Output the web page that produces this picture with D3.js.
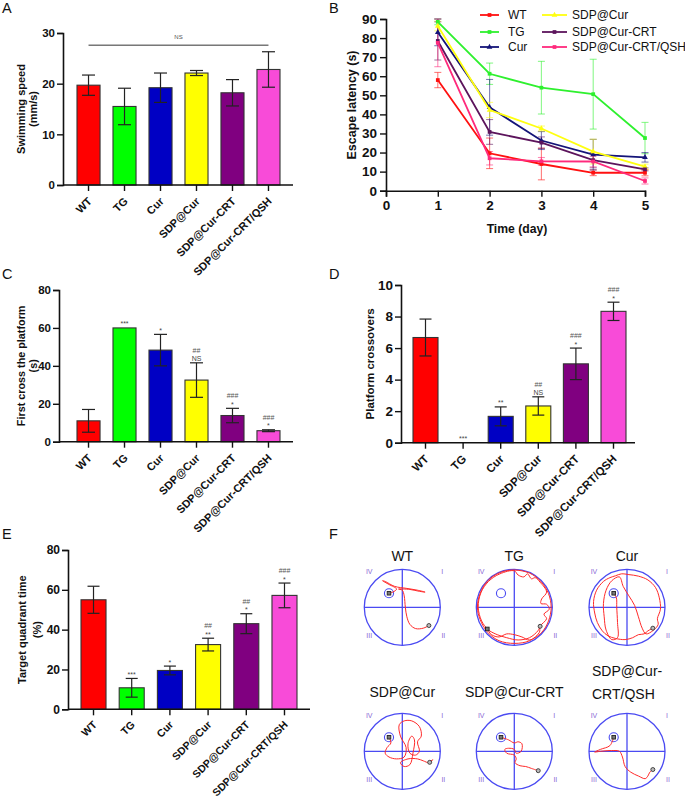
<!DOCTYPE html>
<html>
<head>
<meta charset="utf-8">
<script src="https://cdn.jsdelivr.net/npm/d3@7"></script>
<style>
  html, body { margin: 0; padding: 0; background: #fff; }
  svg { display: block; font-family: "Liberation Sans", Arial, sans-serif; }
</style>
</head>
<body>
<script>
// ---------------- DATA ----------------
const groups = ["WT", "TG", "Cur", "SDP@Cur", "SDP@Cur-CRT", "SDP@Cur-CRT/QSH"];
const barColors = ["#ff0000", "#00ff00", "#0000c4", "#ffff00", "#800080", "#f84bd8"];
const lineColors = ["#ff1010", "#2ef02e", "#141478", "#ffff10", "#5c145c", "#ff2a7c"];

// A: swimming speed (mm/s)
const speedMean = [19.7, 15.5, 19.2, 22.1, 18.2, 22.8];
const speedSem  = [2.0, 3.6, 2.9, 0.5, 2.6, 3.5];
const speedTicks = [0, 10, 20, 30];

// B: escape latency (s) per day
const days = [1, 2, 3, 4, 5];
const latWT   = [58.0, 19.6, 14.0, 9.4, 9.4];
const latTG   = [88.5, 61.3, 54.0, 50.6, 27.6];
const latCur  = [83.0, 43.7, 26.3, 18.9, 17.5];
const latSDP  = [86.3, 42.3, 32.6, 20.5, 12.6];
const latCRT  = [78.5, 30.8, 25.2, 16.0, 11.2];
const latQSH  = [77.5, 17.0, 15.4, 15.3, 5.1];
const semWT   = [4.0, 8.0, 8.3, 1.5, 1.6];
const semTG   = [1.5, 5.6, 13.8, 18.3, 8.2];
const semCur  = [7.0, 14.6, 4.7, 8.0, 2.5];
const semSDP  = [2.5, 4.0, 1.3, 6.5, 1.3];
const semCRT  = [10.0, 6.5, 3.0, 4.0, 0.8];
const semQSH  = [12.5, 3.5, 2.0, 2.8, 1.6];
const latencyTicksY = [0, 10, 20, 30, 40, 50, 60, 70, 80, 90];
const latencyTicksX = [0, 1, 2, 3, 4, 5];

// C: first cross the platform (s)
const firstMean = [11.0, 60.0, 48.3, 32.5, 13.8, 5.8];
const firstSem  = [6.0, 0, 8.3, 9.1, 3.8, 0.5];
const firstSig1 = ["", "***", "*", "NS", "*", "*"];
const firstSig2 = ["", "", "", "##", "###", "###"];
const firstTicks = [0, 20, 40, 60, 80];

// D: platform crossovers
const crossMean = [6.67, 0, 1.67, 2.33, 5.0, 8.33];
const crossSem  = [1.17, 0, 0.6, 0.58, 1.0, 0.58];
const crossSig1 = ["", "***", "**", "NS", "*", "*"];
const crossSig2 = ["", "", "", "##", "###", "###"];
const crossTicks = [0, 2, 4, 6, 8, 10];

// E: target quadrant time (%)
const quadMean = [55.0, 10.8, 19.5, 32.5, 43.0, 57.2];
const quadSem  = [6.8, 4.7, 2.2, 3.2, 5.0, 6.2];
const quadSig1 = ["", "***", "*", "**", "*", "*"];
const quadSig2 = ["", "", "", "##", "##", "###"];
const quadTicks = [0, 20, 40, 60, 80];

// F: swim tracks (pool coordinates, -1..1, y down)
const quadrantNames = ["IV", "I", "III", "II"];
const platform = [-0.35, -0.37];
const trackWT = [[0.70,0.48],[0.55,0.55],[0.35,0.56],[0.20,0.45],[0.12,0.25],[0.08,0.0],[0.05,-0.30],[0.0,-0.45],[-0.10,-0.48],[0.20,-0.47],[0.45,-0.42],[0.60,-0.40],[0.40,-0.45],[0.10,-0.50],[-0.20,-0.55],[-0.45,-0.68],[-0.52,-0.70],[-0.35,-0.60],[-0.15,-0.48],[-0.25,-0.40],[-0.35,-0.37]];
const trackTG = [[0.68,0.50],[0.62,0.62],[0.40,0.80],[0.10,0.86],[-0.20,0.80],[-0.45,0.72],[-0.65,0.62],[-0.71,0.57],[-0.86,0.36],[-0.95,0.0],[-0.88,-0.38],[-0.68,-0.68],[-0.38,-0.88],[0.0,-0.96],[0.10,-0.85],[0.25,-0.80],[0.35,-0.88],[0.45,-0.75],[0.55,-0.78],[0.68,-0.66],[0.85,-0.40],[0.72,-0.22],[0.70,-0.10],[0.85,-0.08],[0.92,0.05],[0.78,0.18],[0.85,0.30],[0.68,0.50],[0.66,0.66],[0.40,0.88],[0.0,0.95],[-0.40,0.88],[-0.70,0.66],[-0.90,0.32],[-0.97,0.0],[-0.90,-0.36],[-0.70,-0.70],[-0.36,-0.92],[0.0,-0.98],[0.40,-0.90],[0.70,-0.68],[0.90,-0.36],[0.97,0.0],[0.90,0.36],[0.72,0.66],[0.40,0.86],[0.20,0.78],[0.0,0.72],[-0.20,0.70],[-0.40,0.78],[-0.60,0.72],[-0.71,0.57]];
const trackCur = [[0.68,0.55],[0.55,0.62],[0.45,0.70],[0.30,0.72],[0.15,0.80],[-0.05,0.85],[-0.30,0.82],[-0.50,0.75],[-0.65,0.62],[-0.78,0.40],[-0.85,0.15],[-0.88,-0.15],[-0.80,-0.45],[-0.62,-0.68],[-0.45,-0.78],[-0.30,-0.83],[-0.15,-0.88],[0.05,-0.86],[0.30,-0.82],[0.55,-0.72],[0.75,-0.52],[0.85,-0.25],[0.88,0.05],[0.80,0.30],[0.82,0.45],[0.70,0.60],[0.50,0.70],[0.40,0.55],[0.30,0.25],[0.20,-0.05],[0.05,-0.30],[-0.10,-0.55],[-0.20,-0.80],[-0.40,-0.70],[-0.55,-0.45],[-0.62,-0.10],[-0.60,0.25],[-0.55,0.60],[-0.40,0.85],[-0.25,0.80],[-0.25,0.40],[-0.27,0.0],[-0.28,-0.25],[-0.35,-0.37]];
const trackSDP = [[0.72,0.29],[0.80,0.22],[0.70,0.30],[0.55,0.25],[0.40,0.20],[0.15,0.20],[-0.05,0.30],[0.05,0.40],[0.20,0.35],[0.28,0.05],[0.32,-0.30],[0.25,-0.40],[0.15,-0.20],[0.20,0.05],[0.35,0.10],[0.45,0.0],[0.40,-0.25],[0.50,-0.40],[0.45,-0.65],[0.25,-0.80],[0.05,-0.80],[-0.08,-0.70],[-0.05,-0.40],[0.10,-0.10],[0.05,0.15],[-0.15,0.20],[-0.35,0.15],[-0.45,0.05],[-0.40,-0.10],[-0.30,-0.22],[-0.35,-0.37]];
const trackCRT = [[0.63,0.51],[0.45,0.45],[0.30,0.40],[0.15,0.38],[0.02,0.30],[0.05,0.20],[0.0,0.10],[-0.20,0.05],[-0.25,-0.05],[-0.15,-0.08],[0.0,-0.05],[0.05,0.05],[0.18,0.0],[0.20,-0.20],[0.10,-0.25],[0.0,-0.22],[-0.15,-0.30],[-0.35,-0.37]];
const trackQSH = [[0.68,0.48],[0.60,0.55],[0.55,0.65],[0.48,0.72],[0.30,0.65],[0.10,0.55],[-0.05,0.40],[-0.12,0.15],[-0.20,0.0],[-0.40,-0.02],[-0.70,0.0],[-0.85,0.02],[-0.70,-0.05],[-0.45,-0.15],[-0.35,-0.37]];

// ---------------- DRAWING ----------------
const W = 685, H = 802;
const svg = d3.select("body").append("svg").attr("width", W).attr("height", H);
svg.append("rect").attr("width", W).attr("height", H).attr("fill", "#fff");

const FONT = "'Liberation Sans', Arial, sans-serif";

function panelLetter(t, x, y) {
  svg.append("text").attr("x", x).attr("y", y).attr("font-size", 14.5)
    .attr("font-family", FONT).attr("fill", "#111").text(t);
}

function styleAxis(sel, fs) {
  sel.selectAll("path.domain").attr("stroke", "#111").attr("stroke-width", 1.6);
  sel.selectAll(".tick line").attr("stroke", "#111").attr("stroke-width", 1.4);
  sel.selectAll(".tick text").attr("font-size", fs).attr("font-weight", "bold")
    .attr("font-family", FONT).attr("fill", "#111");
}

function yLabel(lines, xs, cy, fs) {
  lines.forEach((t, i) => {
    svg.append("text").attr("transform", `translate(${xs[i]},${cy}) rotate(-90)`)
      .attr("text-anchor", "middle").attr("dy", "0.35em")
      .attr("font-size", fs).attr("font-weight", "bold").attr("font-family", FONT)
      .attr("fill", "#111").text(t);
  });
}

function barPanel(p, means, sems, sig1, sig2) {
  const g = svg.append("g");
  const y = d3.scaleLinear().domain([0, p.max]).range([p.y0, p.yTop]);
  const x = d3.scaleBand().domain(groups).range(p.band).paddingInner(p.pin).paddingOuter(0);
  const bw = x.bandwidth();
  const cx = d => x(d) + bw / 2;

  g.selectAll("rect.bar").data(groups).join("rect").attr("class", "bar")
    .attr("x", d => x(d)).attr("y", (d, i) => y(means[i]))
    .attr("width", bw).attr("height", (d, i) => y(0) - y(means[i]))
    .attr("fill", (d, i) => barColors[i])
    .attr("stroke", "#333").attr("stroke-width", 1.1)
    .attr("stroke-opacity", (d, i) => means[i] > 0 ? 1 : 0);

  const eb = groups.map((d, i) => ({ d, i })).filter(o => sems[o.i] > 0);
  const cap = p.cap;
  const eg = g.selectAll("g.err").data(eb).join("g").attr("class", "err")
    .attr("stroke", "#222").attr("stroke-width", 1.2);
  eg.append("line").attr("x1", o => cx(o.d)).attr("x2", o => cx(o.d))
    .attr("y1", o => y(means[o.i] - sems[o.i])).attr("y2", o => y(means[o.i] + sems[o.i]));
  eg.append("line").attr("x1", o => cx(o.d) - cap / 2).attr("x2", o => cx(o.d) + cap / 2)
    .attr("y1", o => y(means[o.i] + sems[o.i])).attr("y2", o => y(means[o.i] + sems[o.i]));
  eg.append("line").attr("x1", o => cx(o.d) - cap / 2).attr("x2", o => cx(o.d) + cap / 2)
    .attr("y1", o => y(means[o.i] - sems[o.i])).attr("y2", o => y(means[o.i] - sems[o.i]));

  // significance marks
  if (sig1) {
    groups.forEach((d, i) => {
      const top = y(means[i] + sems[i]);
      if (sig1[i]) g.append("text").attr("x", cx(d)).attr("y", top - 1.5)
        .attr("text-anchor", "middle").attr("font-size", 7).attr("font-family", FONT)
        .attr("fill", "#444").text(sig1[i]);
      if (sig2[i]) g.append("text").attr("x", cx(d)).attr("y", top - p.sigGap)
        .attr("text-anchor", "middle").attr("font-size", 7).attr("font-family", FONT)
        .attr("fill", "#555").text(sig2[i]);
    });
  }

  // y axis
  const ya = g.append("g").attr("transform", `translate(${p.axisX},0)`)
    .call(d3.axisLeft(y).tickValues(p.ticks).tickSize(6).tickPadding(2));
  styleAxis(ya, p.fs);
  // x axis
  const xa = g.append("g").attr("transform", `translate(0,${p.y0})`)
    .call(d3.axisBottom(x).tickSize(6).tickFormat(""));
  xa.select("path.domain").remove();
  styleAxis(xa, p.fs);
  g.append("line").attr("x1", p.axisX).attr("x2", p.axisEnd).attr("y1", p.y0).attr("y2", p.y0)
    .attr("stroke", "#111").attr("stroke-width", 1.6);
  // rotated category labels
  g.selectAll("text.cat").data(groups).join("text").attr("class", "cat")
    .attr("transform", d => `translate(${cx(d) + 4},${p.y0 + p.catDy}) rotate(-45)`)
    .attr("text-anchor", "end").attr("font-size", p.catFs).attr("font-weight", "bold")
    .attr("font-family", FONT).attr("fill", "#111").text(d => d);

  yLabel(p.label, p.labelX, (p.y0 + p.yTop) / 2, p.labelFs);
  return { x, y };
}

// ---- Panel A ----
panelLetter("A", 2, 13);
const pA = barPanel({ max: 30, y0: 185, yTop: 33, band: [77, 280], pin: 0.36, axisX: 63, axisEnd: 293,
  ticks: speedTicks, fs: 11.5, catFs: 11, catDy: 17, cap: 13, sigGap: 10, label: ["Swimming speed", "(mm/s)"],
  labelX: [21, 33], labelFs: 11 }, speedMean, speedSem, null, null);
// NS bracket
svg.append("line").attr("x1", pA.x(groups[0]) + pA.x.bandwidth() / 2)
  .attr("x2", pA.x(groups[5]) + pA.x.bandwidth() / 2)
  .attr("y1", pA.y(27.6)).attr("y2", pA.y(27.6)).attr("stroke", "#333").attr("stroke-width", 1);
svg.append("text").attr("x", (pA.x(groups[0]) + pA.x(groups[5]) + pA.x.bandwidth()) / 2)
  .attr("y", pA.y(27.6) - 6).attr("text-anchor", "middle").attr("font-size", 6)
  .attr("font-family", FONT).attr("fill", "#555").text("NS");

// ---- Panel C ----
panelLetter("C", 2, 279);
barPanel({ max: 80, y0: 441.7, yTop: 290, band: [77, 280], pin: 0.36, axisX: 59, axisEnd: 293,
  ticks: firstTicks, fs: 11.5, catFs: 11, catDy: 17, cap: 13, sigGap: 10, label: ["First cross the platform", "(s)"],
  labelX: [21, 33], labelFs: 10.8 }, firstMean, firstSem, firstSig1, firstSig2);

// ---- Panel D ----
panelLetter("D", 329, 279);
barPanel({ max: 10, y0: 442.7, yTop: 285, band: [413, 626], pin: 0.335, axisX: 401, axisEnd: 635,
  ticks: crossTicks, fs: 13.5, catFs: 11.5, catDy: 17, cap: 12, sigGap: 10, label: ["Platform crossovers"],
  labelX: [370], labelFs: 11.5 }, crossMean, crossSem, crossSig1, crossSig2);

// ---- Panel E ----
panelLetter("E", 2, 539);
barPanel({ max: 80, y0: 709.3, yTop: 550, band: [81, 297], pin: 0.345, axisX: 68, axisEnd: 310,
  ticks: quadTicks, fs: 12, catFs: 10.6, catDy: 16, cap: 12, sigGap: 10, label: ["Target quadrant time", "(%)"],
  labelX: [22, 37], labelFs: 11 }, quadMean, quadSem, quadSig1, quadSig2);

// ---- Panel B ----
panelLetter("B", 329, 13);
(function () {
  const latMeans = [latWT, latTG, latCur, latSDP, latCRT, latQSH];
  const latSems = [semWT, semTG, semCur, semSDP, semCRT, semQSH];
  const series = groups.map((name, i) => ({ name, i, mean: latMeans[i], sem: latSems[i] }));
  const x = d3.scaleLinear().domain([0, 5]).range([386, 645]);
  const y = d3.scaleLinear().domain([0, 90]).range([190.7, 19]);
  const g = svg.append("g");
  const sym = [d3.symbolSquare, d3.symbolSquare, d3.symbolTriangle, d3.symbolTriangle, d3.symbolSquare, d3.symbolSquare];

  // error bars
  series.forEach(s => {
    const eg = g.append("g").attr("stroke", lineColors[s.i]).attr("stroke-opacity", 0.55).attr("stroke-width", 1.1);
    days.forEach((d, k) => {
      const lo = y(s.mean[k] - s.sem[k]), hi = y(s.mean[k] + s.sem[k]);
      eg.append("line").attr("x1", x(d)).attr("x2", x(d)).attr("y1", lo).attr("y2", hi);
      eg.append("line").attr("x1", x(d) - 3.5).attr("x2", x(d) + 3.5).attr("y1", lo).attr("y2", lo);
      eg.append("line").attr("x1", x(d) - 3.5).attr("x2", x(d) + 3.5).attr("y1", hi).attr("y2", hi);
    });
  });
  const line = d3.line().x((v, k) => x(days[k])).y(v => y(v));
  series.forEach(s => {
    g.append("path").attr("d", line(s.mean)).attr("fill", "none")
      .attr("stroke", lineColors[s.i]).attr("stroke-width", 1.8);
    g.selectAll(null).data(s.mean).join("path")
      .attr("transform", (v, k) => `translate(${x(days[k])},${y(v)})`)
      .attr("d", d3.symbol().type(sym[s.i]).size(14)).attr("fill", lineColors[s.i]);
  });

  const ya = g.append("g").attr("transform", "translate(386,0)")
    .call(d3.axisLeft(y).tickValues(latencyTicksY).tickSize(6).tickPadding(3));
  styleAxis(ya, 13.5);
  const xa = g.append("g").attr("transform", "translate(0,190.7)")
    .call(d3.axisBottom(x).tickValues(latencyTicksX).tickSize(6).tickPadding(4).tickFormat(d3.format("d")));
  styleAxis(xa, 13.5);

  yLabel(["Escape latency (s)"], [352], 105, 12.5);
  svg.append("text").attr("x", 517).attr("y", 233).attr("text-anchor", "middle")
    .attr("font-size", 12.2).attr("font-weight", "bold").attr("font-family", FONT)
    .attr("fill", "#111").text("Time (day)");

  // legend
  const rows = [15, 32, 47];
  series.forEach(s => {
    const col = s.i < 3 ? 0 : 1;
    const ry = rows[s.i % 3];
    const lx0 = col === 0 ? 480 : 542, lx1 = col === 0 ? 499 : 567;
    const tx = col === 0 ? 508 : 572;
    g.append("line").attr("x1", lx0).attr("x2", lx1).attr("y1", ry).attr("y2", ry)
      .attr("stroke", lineColors[s.i]).attr("stroke-width", 1.8);
    g.append("path").attr("transform", `translate(${(lx0 + lx1) / 2},${ry})`)
      .attr("d", d3.symbol().type(sym[s.i]).size(14)).attr("fill", lineColors[s.i]);
    g.append("text").attr("x", tx).attr("y", ry).attr("dy", "0.36em")
      .attr("font-size", 12).attr("font-family", FONT).attr("fill", "#111").text(s.name);
  });
})();

// ---- Panel F ----
panelLetter("F", 329, 539);
(function () {
  const tracks = [trackWT, trackTG, trackCur, trackSDP, trackCRT, trackQSH];
  const centers = [[402.3, 607.3], [514.3, 607.3], [627, 607.3], [402.3, 751.3], [514.3, 751.3], [627, 751.3]];
  const R = 38;
  const blue = "#4a4af2";
  groups.forEach((name, i) => {
    const [cx, cy] = centers[i];
    const sx = d3.scaleLinear().domain([-1, 1]).range([cx - R, cx + R]);
    const sy = d3.scaleLinear().domain([-1, 1]).range([cy - R, cy + R]);
    const g = svg.append("g");
    g.append("circle").attr("cx", sx(0)).attr("cy", sy(0)).attr("r", R)
      .attr("fill", "none").attr("stroke", blue).attr("stroke-width", 1.3);
    g.append("line").attr("x1", sx(-1)).attr("x2", sx(1)).attr("y1", sy(0)).attr("y2", sy(0))
      .attr("stroke", blue).attr("stroke-width", 1.3);
    g.append("line").attr("x1", sx(0)).attr("x2", sx(0)).attr("y1", sy(-1)).attr("y2", sy(1))
      .attr("stroke", blue).attr("stroke-width", 1.3);
    g.append("circle").attr("cx", sx(platform[0])).attr("cy", sy(platform[1])).attr("r", 0.12 * R)
      .attr("fill", "none").attr("stroke", blue).attr("stroke-width", 1.1);
    // quadrant numerals
    const qpos = [[-0.87, -0.94], [1.05, -0.94], [-0.87, 0.75], [1.08, 0.75]];
    quadrantNames.forEach((q, k) => {
      g.append("text").attr("x", sx(qpos[k][0])).attr("y", sy(qpos[k][1])).attr("dy", "0.35em")
        .attr("text-anchor", "middle").attr("font-size", 7).attr("font-family", FONT)
        .attr("fill", "#8a6ad6").text(q);
    });
    // track
    const tr = tracks[i];
    const ln = d3.line().x(d => sx(d[0])).y(d => sy(d[1])).curve(d3.curveCatmullRom.alpha(0.5));
    g.append("path").attr("d", ln(tr)).attr("fill", "none").attr("stroke", "#ff2a2a")
      .attr("stroke-width", 1).attr("stroke-linejoin", "round");
    const st = tr[0], en = tr[tr.length - 1];
    g.append("circle").attr("cx", sx(st[0])).attr("cy", sy(st[1])).attr("r", 2)
      .attr("fill", "#bbb").attr("stroke", "#333").attr("stroke-width", 0.9);
    g.append("rect").attr("x", sx(en[0]) - 1.8).attr("y", sy(en[1]) - 1.8).attr("width", 3.6).attr("height", 3.6)
      .attr("fill", "#777").attr("stroke", "#222").attr("stroke-width", 0.9);
  });
  // titles
  const tfs = 14;
  const titles = [
    { lines: ["WT"], x: 402.3, y: 561, anchor: "middle" },
    { lines: ["TG"], x: 514.3, y: 561, anchor: "middle" },
    { lines: ["Cur"], x: 627, y: 561, anchor: "middle" },
    { lines: ["SDP@Cur"], x: 402.3, y: 697, anchor: "middle" },
    { lines: ["SDP@Cur-CRT"], x: 514.3, y: 697, anchor: "middle" },
    { lines: ["SDP@Cur-", "CRT/QSH"], x: 592, y: 676, anchor: "start" }
  ];
  titles.forEach(t => {
    t.lines.forEach((l, k) => {
      svg.append("text").attr("x", t.x).attr("y", t.y + k * 23).attr("text-anchor", t.anchor)
        .attr("font-size", tfs).attr("font-family", FONT).attr("fill", "#111").text(l);
    });
  });
})();
</script>
</body>
</html>
